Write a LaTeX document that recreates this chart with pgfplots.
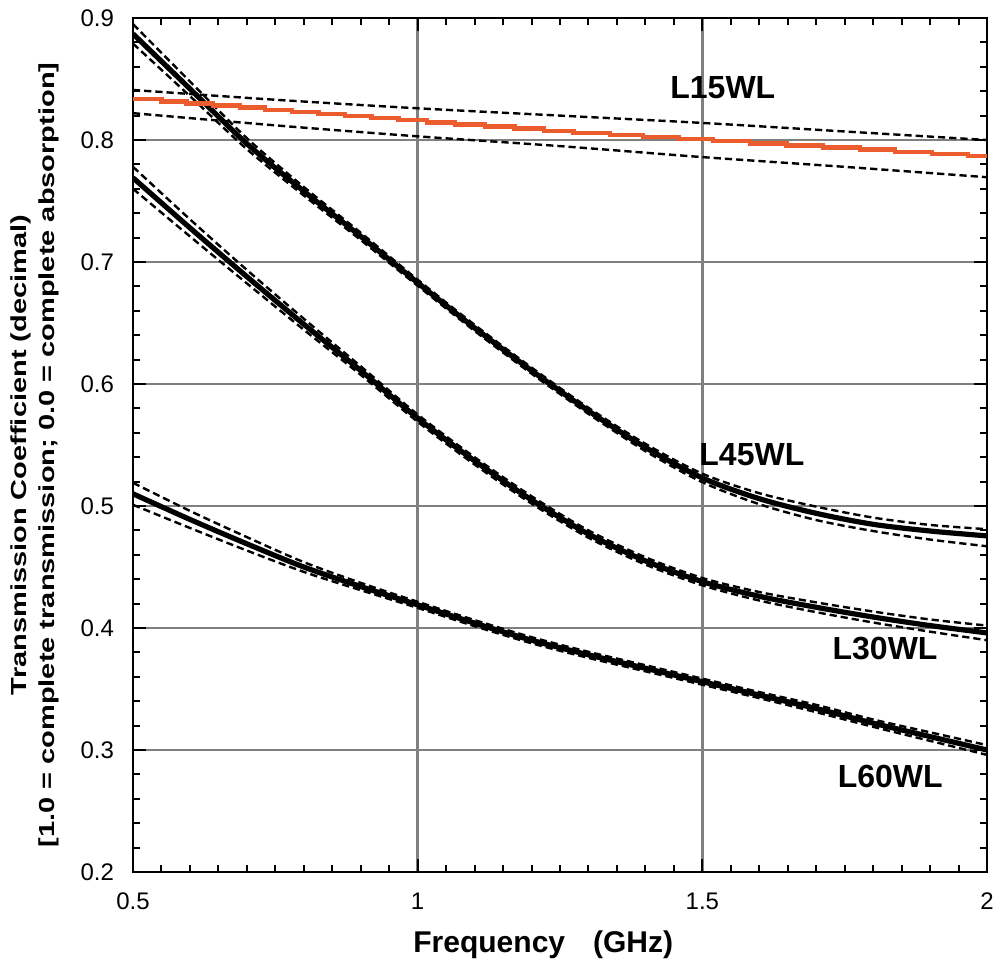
\documentclass[border=0pt]{standalone}
\usepackage{pgfplots}
\pgfplotsset{compat=1.18}
\usepackage{fontspec}
\setmainfont{Liberation Sans}
\usepackage{graphicx}
\definecolor{orangeline}{RGB}{236,93,46}
\definecolor{gridgray}{RGB}{128,128,128}
\pgfplotsset{
  band/.style={black, line width=1.2pt, dash pattern=on 3.6pt off 2pt, smooth},
  main/.style={black, line width=2.6pt, smooth},
}
\begin{document}
\begin{tikzpicture}
\useasboundingbox (0,0) rectangle (497.5pt,482pt);
\begin{axis}[
  at={(66.5pt,46pt)}, anchor=south west,
  scale only axis, width=427pt, height=427pt,
  xmin=0.5, xmax=2, ymin=0.2, ymax=0.9,
  xtick={0.5,1,1.5,2}, xticklabels={0.5,1,1.5,2},
  ytick={0.2,0.3,0.4,0.5,0.6,0.7,0.8,0.9},
  yticklabels={0.2,0.3,0.4,0.5,0.6,0.7,0.8,0.9},
  minor x tick num=9, minor y tick num=4,
  tick align=inside,
  major tick length=6.5pt, minor tick length=3.5pt,
  every tick/.style={black, line width=1pt},
  axis line style={line width=1.3pt},
  grid=major, major grid style={gridgray, line width=1.3pt},
  tick label style={font=\fontsize{12}{14}\selectfont},
  yticklabel style={xshift=-6pt},
  xticklabel style={yshift=-7pt},
]
% ---- L15WL bands ----
\addplot[band] coordinates {(0.5,0.841)(0.75,0.833)(1.0,0.826)(1.25,0.820)(1.5,0.814)(1.75,0.807)(2.0,0.800)};
\addplot[band] coordinates {(0.5,0.822)(0.75,0.812)(1.0,0.803)(1.25,0.795)(1.5,0.786)(1.75,0.778)(2.0,0.7695)};
% ---- L45WL bands ----
\addplot[band] coordinates {(0.5,0.895)(0.6,0.848)(0.7,0.8015)(0.8,0.7615)(0.9,0.724)(1.0,0.6855)(1.1,0.6485)(1.2,0.6135)(1.3,0.5805)(1.4,0.551)(1.5,0.5265)(1.6,0.5105)(1.7,0.4995)(1.8,0.4905)(1.9,0.4845)(2.0,0.481)};
\addplot[band] coordinates {(0.5,0.879)(0.6,0.836)(0.7,0.7925)(0.8,0.7545)(0.9,0.718)(1.0,0.6805)(1.1,0.6435)(1.2,0.6085)(1.3,0.5755)(1.4,0.545)(1.5,0.5195)(1.6,0.5015)(1.7,0.4885)(1.8,0.4795)(1.9,0.4725)(2.0,0.467)};
% ---- L30WL bands ----
\addplot[band] coordinates {(0.5,0.778)(0.6,0.735)(0.7,0.6935)(0.8,0.6535)(0.9,0.6145)(1.0,0.575)(1.1,0.540)(1.2,0.508)(1.3,0.480)(1.4,0.458)(1.5,0.441)(1.6,0.4295)(1.7,0.421)(1.8,0.4135)(1.9,0.407)(2.0,0.402)};
\addplot[band] coordinates {(0.5,0.760)(0.6,0.721)(0.7,0.6825)(0.8,0.6445)(0.9,0.6075)(1.0,0.569)(1.1,0.534)(1.2,0.502)(1.3,0.474)(1.4,0.452)(1.5,0.435)(1.6,0.4225)(1.7,0.413)(1.8,0.4045)(1.9,0.397)(2.0,0.390)};
% ---- L60WL bands ----
\addplot[band] coordinates {(0.5,0.519)(0.6,0.496)(0.7,0.4745)(0.8,0.454)(0.9,0.437)(1.0,0.4215)(1.1,0.4065)(1.2,0.3925)(1.3,0.3805)(1.4,0.3695)(1.5,0.3585)(1.6,0.3475)(1.7,0.337)(1.8,0.325)(1.9,0.3145)(2.0,0.304)};
\addplot[band] coordinates {(0.5,0.501)(0.6,0.482)(0.7,0.4635)(0.8,0.446)(0.9,0.431)(1.0,0.4165)(1.1,0.4015)(1.2,0.3875)(1.3,0.3755)(1.4,0.3645)(1.5,0.3535)(1.6,0.3425)(1.7,0.331)(1.8,0.319)(1.9,0.3075)(2.0,0.296)};
% ---- main curves ----
\addplot[main] coordinates {(0.5,0.887)(0.6,0.842)(0.7,0.797)(0.8,0.758)(0.9,0.721)(1.0,0.683)(1.1,0.646)(1.2,0.611)(1.3,0.578)(1.4,0.548)(1.5,0.523)(1.6,0.506)(1.7,0.494)(1.8,0.485)(1.9,0.4795)(2.0,0.4755)};
\addplot[main] coordinates {(0.5,0.769)(0.6,0.728)(0.7,0.688)(0.8,0.649)(0.9,0.611)(1.0,0.572)(1.1,0.537)(1.2,0.505)(1.3,0.477)(1.4,0.455)(1.5,0.438)(1.6,0.426)(1.7,0.417)(1.8,0.409)(1.9,0.402)(2.0,0.396)};
\addplot[main] coordinates {(0.5,0.510)(0.6,0.489)(0.7,0.469)(0.8,0.450)(0.9,0.434)(1.0,0.419)(1.1,0.404)(1.2,0.390)(1.3,0.378)(1.4,0.367)(1.5,0.356)(1.6,0.345)(1.7,0.334)(1.8,0.322)(1.9,0.311)(2.0,0.300)};
% ---- L15WL orange step line ----
\addplot[orangeline, line width=2.2pt, const plot] coordinates {
(0.5,0.8334)(0.550,0.8317)(0.594,0.8300)(0.641,0.8282)(0.688,0.8265)(0.732,0.8248)
(0.779,0.8231)(0.826,0.8214)(0.872,0.8196)(0.919,0.8179)(0.966,0.8162)(1.016,0.8145)
(1.066,0.8128)(1.118,0.8110)(1.170,0.8093)(1.222,0.8076)(1.274,0.8059)(1.338,0.8042)
(1.396,0.8024)(1.458,0.8007)(1.519,0.7990)(1.584,0.7973)(1.648,0.7956)(1.712,0.7938)
(1.777,0.7921)(1.838,0.7904)(1.903,0.7887)(1.967,0.7870)(2.0,0.7870)};
% ---- curve labels ----
\node[font=\fontsize{16}{19}\selectfont\bfseries] at (axis cs:1.536,0.8426) {L15WL};
\node[font=\fontsize{16}{19}\selectfont\bfseries] at (axis cs:1.587,0.5425) {L45WL};
\node[font=\fontsize{16}{19}\selectfont\bfseries] at (axis cs:1.821,0.3836) {L30WL};
\node[font=\fontsize{16}{19}\selectfont\bfseries] at (axis cs:1.830,0.278) {L60WL};
\end{axis}
\node[anchor=base west, inner sep=0pt, font=\fontsize{15}{18}\selectfont\bfseries] at (206.5pt,6pt) {Frequency\hspace{14pt}(GHz)};
\node[rotate=90, inner sep=0pt, anchor=center] at (17.35pt,254.5pt)
  {\scalebox{1}[0.75]{\fontsize{14.5}{19.3}\selectfont\bfseries\begin{tabular}{@{}c@{}}Transmission Coefficient (decimal)\\ {[}1.0 = complete transmission; 0.0 = complete absorption{]}\end{tabular}}};
\end{tikzpicture}
\end{document}
